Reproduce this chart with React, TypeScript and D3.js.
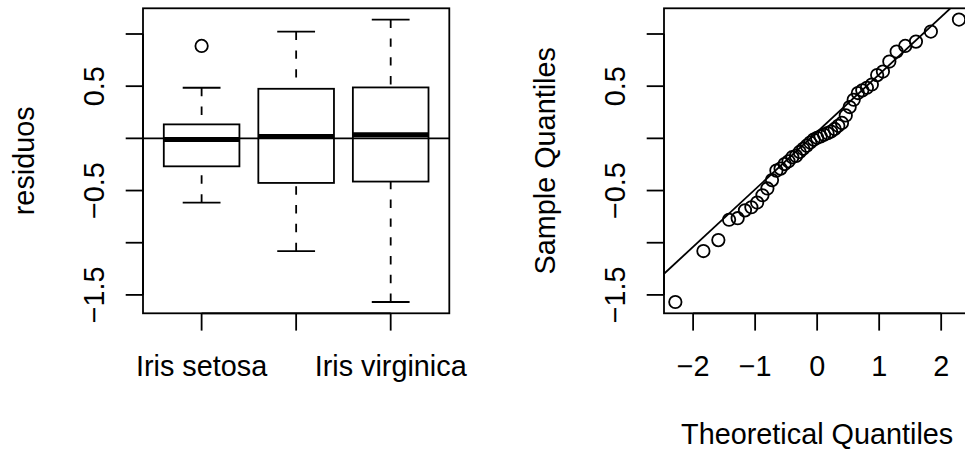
import React from 'react';
import * as d3 from 'd3';

// Residuals of the model, one array per species
const species = ['Iris setosa', 'Iris versicolor', 'Iris virginica'];
const residSetosa = [-0.615, -0.48, -0.4, -0.29, -0.246, -0.18, -0.1, -0.012, 0.005, 0.065, 0.12, 0.148, 0.46, 0.485, 0.886];
const residVersicolor = [-1.08, -0.78, -0.69, -0.545, -0.309, -0.22, -0.13, 0.019, 0.09, 0.3, 0.434, 0.516, 0.736, 0.927, 1.023];
const residVirginica = [-1.568, -0.975, -0.765, -0.66, -0.168, -0.07, -0.04, 0.035, 0.05, 0.22, 0.37, 0.606, 0.64, 0.832, 1.138];

const yTicks = [-1.5, -1, -0.5, 0, 0.5, 1];
const qqTicks = [-2, -1, 0, 1, 2];

const W = 965;
const H = 452;
const FONT = 28.8;
const FONT_FAMILY = '"Liberation Sans", Arial, Helvetica, sans-serif';
const LW = 1.8;
const FRAME_TOP = 8.3;
const FRAME_BOTTOM = 313.3;
const PANEL_W = 306.3;
const LEFT_X0 = 143;
const RIGHT_X0 = 664;
const TICK = 17.3;

const fmt = (v: number) => String(v).replace('-', '\u2212');

// Tukey five-number summary (R's fivenum)
function fivenum(v: number[]) {
  const x = [...v].sort((a, b) => a - b);
  const n = x.length;
  const n4 = Math.floor((n + 3) / 2) / 2;
  const d = [1, n4, (n + 1) / 2, n + 1 - n4, n];
  return d.map((di) => 0.5 * (x[Math.floor(di) - 1] + x[Math.ceil(di) - 1]));
}

function boxStats(v: number[]) {
  const f = fivenum(v);
  const iqr = f[3] - f[1];
  const lo = f[1] - 1.5 * iqr;
  const hi = f[3] + 1.5 * iqr;
  const inside = v.filter((d) => d >= lo && d <= hi);
  return {
    lower: d3.min(inside) as number,
    q1: f[1],
    med: f[2],
    q3: f[3],
    upper: d3.max(inside) as number,
    out: v.filter((d) => d < lo || d > hi),
  };
}

// Inverse standard normal CDF (Acklam)
function qnorm(p: number): number {
  const a = [-39.69683028665376, 220.9460984245205, -275.9285104469687, 138.357751867269, -30.66479806614716, 2.506628277459239];
  const b = [-54.47609879822406, 161.5858368580409, -155.6989798598866, 66.80131188771972, -13.28068155288572];
  const c = [-0.007784894002430293, -0.3223964580411365, -2.400758277161838, -2.549732539343734, 4.374664141464968, 2.938163982698783];
  const d = [0.007784695709041462, 0.3224671290700398, 2.445134137142996, 3.754408661907416];
  const plow = 0.02425;
  if (p < plow) {
    const q = Math.sqrt(-2 * Math.log(p));
    return (((((c[0] * q + c[1]) * q + c[2]) * q + c[3]) * q + c[4]) * q + c[5]) / ((((d[0] * q + d[1]) * q + d[2]) * q + d[3]) * q + 1);
  }
  if (p > 1 - plow) {
    const q = Math.sqrt(-2 * Math.log(1 - p));
    return -(((((c[0] * q + c[1]) * q + c[2]) * q + c[3]) * q + c[4]) * q + c[5]) / ((((d[0] * q + d[1]) * q + d[2]) * q + d[3]) * q + 1);
  }
  const q = p - 0.5;
  const r = q * q;
  return ((((((a[0] * r + a[1]) * r + a[2]) * r + a[3]) * r + a[4]) * r + a[5]) * q) / (((((b[0] * r + b[1]) * r + b[2]) * r + b[3]) * r + b[4]) * r + 1);
}

let ctx: CanvasRenderingContext2D | null = null;
function textWidth(s: string) {
  if (!ctx) ctx = document.createElement('canvas').getContext('2d');
  if (!ctx) return s.length * FONT * 0.55;
  ctx.font = `${FONT}px ${FONT_FAMILY}`;
  return ctx.measureText(s).width;
}

// Drop labels that would collide with the previously drawn one (like R's axis)
function keepLabels(pos: number[], labels: string[]) {
  const gap = 1.1 * textWidth('m');
  let lastEnd = -Infinity;
  return labels.map((lab, i) => {
    const w = textWidth(lab);
    const start = pos[i] - w / 2;
    if (start >= lastEnd + gap) {
      lastEnd = pos[i] + w / 2;
      return true;
    }
    return false;
  });
}

function extend(lo: number, hi: number): [number, number] {
  const r = hi - lo;
  return [lo - 0.04 * r, hi + 0.04 * r];
}

export default function App() {
  const groups = [residSetosa, residVersicolor, residVirginica];
  const all = groups.flat();
  const stats = groups.map(boxStats);

  const y = d3.scaleLinear().domain(extend(d3.min(all) as number, d3.max(all) as number)).range([FRAME_BOTTOM, FRAME_TOP]);
  const xBox = d3.scaleLinear().domain(extend(0.5, species.length + 0.5)).range([LEFT_X0, LEFT_X0 + PANEL_W]);

  const sorted = [...all].sort((a, b) => a - b);
  const n = sorted.length;
  const theo = sorted.map((_, i) => qnorm((i + 1 - 0.5) / n));
  const xQQ = d3.scaleLinear().domain(extend(theo[0], theo[n - 1])).range([RIGHT_X0, RIGHT_X0 + PANEL_W]);

  // reference line through the quartiles
  const yq1 = d3.quantile(sorted, 0.25) as number;
  const yq3 = d3.quantile(sorted, 0.75) as number;
  const xq1 = qnorm(0.25);
  const xq3 = qnorm(0.75);
  const slope = (yq3 - yq1) / (xq3 - xq1);
  const intercept = yq1 - slope * xq1;
  const [qd0, qd1] = xQQ.domain();

  const yLabShow = keepLabels(yTicks.map((t) => -y(t)), yTicks.map(fmt));
  const boxLabShow = keepLabels(species.map((_, i) => xBox(i + 1)), species);
  const qqLabShow = keepLabels(qqTicks.map((t) => xQQ(t)), qqTicks.map(fmt));

  const halfBox = 0.4;
  const halfStaple = 0.2;
  const midY = (FRAME_TOP + FRAME_BOTTOM) / 2;
  const tickLabBaseline = FRAME_BOTTOM + 62.2;
  const xLabBaseline = FRAME_BOTTOM + 131;

  const yAxis = (x0: number, ylab: string) => (
    <g>
      <line x1={x0} x2={x0} y1={y(yTicks[0])} y2={y(yTicks[yTicks.length - 1])} stroke="#000" strokeWidth={LW} />
      {yTicks.map((t, i) => (
        <g key={t}>
          <line x1={x0 - TICK} x2={x0} y1={y(t)} y2={y(t)} stroke="#000" strokeWidth={LW} />
          {yLabShow[i] && (
            <text transform={`translate(${x0 - 39.5},${y(t)}) rotate(-90)`} textAnchor="middle">
              {fmt(t)}
            </text>
          )}
        </g>
      ))}
      <text transform={`translate(${x0 - 108.7},${midY}) rotate(-90)`} textAnchor="middle">
        {ylab}
      </text>
    </g>
  );

  return (
    <svg
      width={W}
      height={H}
      viewBox={`0 0 ${W} ${H}`}
      style={{ position: 'absolute', left: 0, top: 0, background: '#fff' }}
      fontFamily={FONT_FAMILY}
      fontSize={FONT}
      fill="#000"
    >
      <defs>
        <clipPath id="qq-clip">
          <rect x={RIGHT_X0} y={FRAME_TOP} width={PANEL_W} height={FRAME_BOTTOM - FRAME_TOP} />
        </clipPath>
      </defs>

      {/* Boxplot of residuals by species */}
      <g>
        <line x1={LEFT_X0} x2={LEFT_X0 + PANEL_W} y1={y(0)} y2={y(0)} stroke="#000" strokeWidth={LW} />
        {stats.map((s, i) => {
          const cx = xBox(i + 1);
          const bx0 = xBox(i + 1 - halfBox);
          const bx1 = xBox(i + 1 + halfBox);
          const sx0 = xBox(i + 1 - halfStaple);
          const sx1 = xBox(i + 1 + halfStaple);
          return (
            <g key={species[i]}>
              <line x1={cx} x2={cx} y1={y(s.lower)} y2={y(s.q1)} stroke="#000" strokeWidth={LW} strokeDasharray="8.4 10.4" />
              <line x1={cx} x2={cx} y1={y(s.upper)} y2={y(s.q3)} stroke="#000" strokeWidth={LW} strokeDasharray="8.4 10.4" />
              <line x1={sx0} x2={sx1} y1={y(s.lower)} y2={y(s.lower)} stroke="#000" strokeWidth={LW} />
              <line x1={sx0} x2={sx1} y1={y(s.upper)} y2={y(s.upper)} stroke="#000" strokeWidth={LW} />
              <rect x={bx0} y={y(s.q3)} width={bx1 - bx0} height={y(s.q1) - y(s.q3)} fill="none" stroke="#000" strokeWidth={LW} />
              <line x1={bx0} x2={bx1} y1={y(s.med)} y2={y(s.med)} stroke="#000" strokeWidth={5} />
              {s.out.map((o, j) => (
                <circle key={j} cx={cx} cy={y(o)} r={6.2} fill="none" stroke="#000" strokeWidth={LW} />
              ))}
            </g>
          );
        })}
        <rect x={LEFT_X0} y={FRAME_TOP} width={PANEL_W} height={FRAME_BOTTOM - FRAME_TOP} fill="none" stroke="#000" strokeWidth={LW} />
        {yAxis(LEFT_X0, 'residuos')}
        <line x1={xBox(1)} x2={xBox(species.length)} y1={FRAME_BOTTOM} y2={FRAME_BOTTOM} stroke="#000" strokeWidth={LW} />
        {species.map((sp, i) => (
          <g key={sp}>
            <line x1={xBox(i + 1)} x2={xBox(i + 1)} y1={FRAME_BOTTOM} y2={FRAME_BOTTOM + TICK} stroke="#000" strokeWidth={LW} />
            {boxLabShow[i] && (
              <text x={xBox(i + 1)} y={tickLabBaseline} textAnchor="middle">
                {sp}
              </text>
            )}
          </g>
        ))}
      </g>

      {/* Normal Q-Q plot */}
      <g>
        <line
          x1={xQQ(qd0)}
          x2={xQQ(qd1)}
          y1={y(intercept + slope * qd0)}
          y2={y(intercept + slope * qd1)}
          stroke="#000"
          strokeWidth={LW}
          clipPath="url(#qq-clip)"
        />
        {sorted.map((v, i) => (
          <circle key={i} cx={xQQ(theo[i])} cy={y(v)} r={6.2} fill="none" stroke="#000" strokeWidth={LW} />
        ))}
        <rect x={RIGHT_X0} y={FRAME_TOP} width={PANEL_W} height={FRAME_BOTTOM - FRAME_TOP} fill="none" stroke="#000" strokeWidth={LW} />
        {yAxis(RIGHT_X0, 'Sample Quantiles')}
        <line x1={xQQ(qqTicks[0])} x2={xQQ(qqTicks[qqTicks.length - 1])} y1={FRAME_BOTTOM} y2={FRAME_BOTTOM} stroke="#000" strokeWidth={LW} />
        {qqTicks.map((t, i) => (
          <g key={t}>
            <line x1={xQQ(t)} x2={xQQ(t)} y1={FRAME_BOTTOM} y2={FRAME_BOTTOM + TICK} stroke="#000" strokeWidth={LW} />
            {qqLabShow[i] && (
              <text x={xQQ(t)} y={tickLabBaseline} textAnchor="middle">
                {fmt(t)}
              </text>
            )}
          </g>
        ))}
        <text x={(xQQ.range()[0] + xQQ.range()[1]) / 2} y={xLabBaseline} textAnchor="middle">
          Theoretical Quantiles
        </text>
      </g>
    </svg>
  );
}
